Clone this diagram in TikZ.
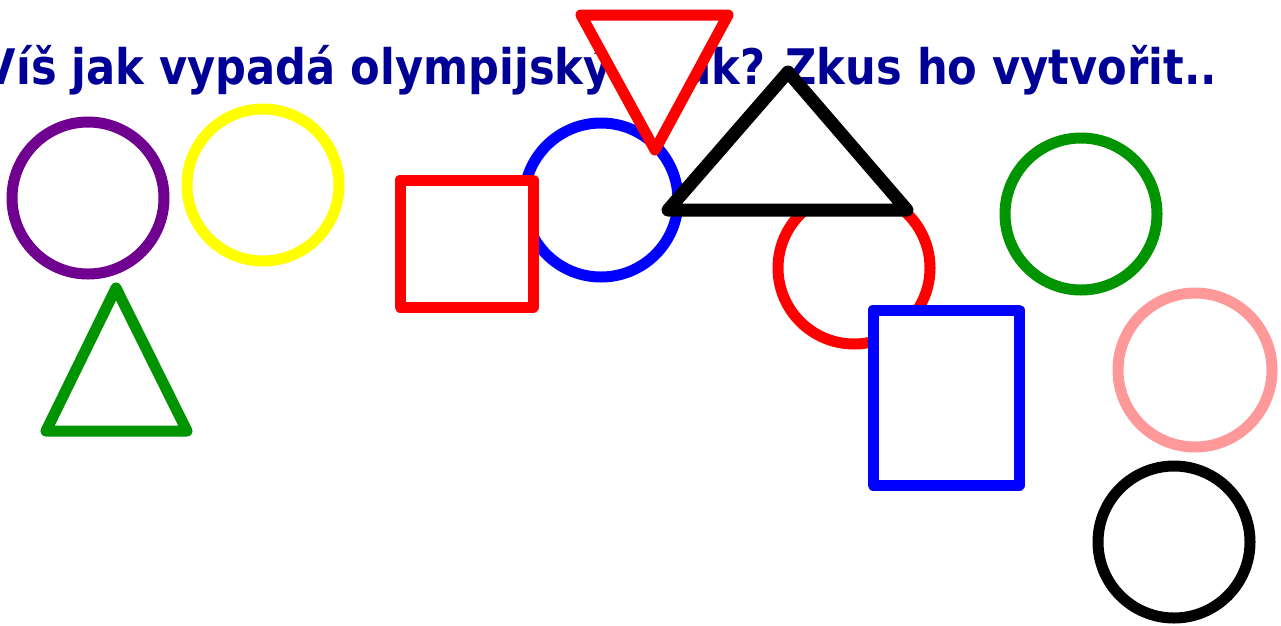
\documentclass[tikz,border=0pt]{standalone}
\usepackage{fontspec}
\usepackage{graphicx}
\newfontfamily\titlefont{DejaVu Sans}
\definecolor{titleblue}{RGB}{0,0,150}
\definecolor{ringpurple}{RGB}{112,0,144}
\definecolor{ringyellow}{RGB}{255,255,0}
\definecolor{ringgreen}{RGB}{0,148,0}
\definecolor{ringred}{RGB}{255,0,0}
\definecolor{ringblue}{RGB}{0,0,255}
\definecolor{ringpink}{RGB}{255,153,153}
\newlength\titlew
\begin{document}
\settowidth\titlew{\titlefont\bfseries\fontsize{49}{55}\selectfont jak vypadá olympijský znak? Zkus ho vytvořit..}%
\pgfmathsetmacro\hs{1145/\titlew}%
\begin{tikzpicture}[x=1pt,y=-1pt,
  shapeline/.style={line width=11pt,line join=round,fill=white},
  thickline/.style={line width=13pt,line join=round,fill=white}]
\useasboundingbox (0,0) rectangle (1281,625);
\fill[white] (0,0) rectangle (1281,625);
% title
\node[anchor=base east,inner sep=0pt,text=titleblue] (title) at (1217,84)
  {\scalebox{\hs}[1]{\titlefont\bfseries\fontsize{49}{55}\selectfont Víš jak vypadá olympijský znak? Zkus ho vytvořit..}};
% left group
\draw[shapeline,draw=ringpurple] (88,198) circle[radius=76];
\draw[shapeline,draw=ringyellow] (263,185) circle[radius=76];
\draw[shapeline,draw=ringgreen] (116,288) -- (46,431) -- (187,431) -- cycle;
% middle group
\draw[shapeline,draw=ringblue] (601,200) circle[radius=77];
\draw[shapeline,draw=ringred] (400,180) rectangle (533,307);
\draw[shapeline,draw=ringred] (581,15) -- (728,15) -- (655,150) -- cycle;
\draw[shapeline,draw=ringred] (854,268) circle[radius=76];
\draw[thickline,draw=black] (788,72) -- (668,210) -- (907,210) -- cycle;
\draw[shapeline,draw=ringblue] (873,310) rectangle (1019,485);
% right group
\draw[shapeline,draw=ringgreen] (1081,214) circle[radius=76];
\draw[shapeline,draw=ringpink] (1195,370) circle[radius=77];
\draw[shapeline,draw=black] (1174,542) circle[radius=76];
\end{tikzpicture}
\end{document}
